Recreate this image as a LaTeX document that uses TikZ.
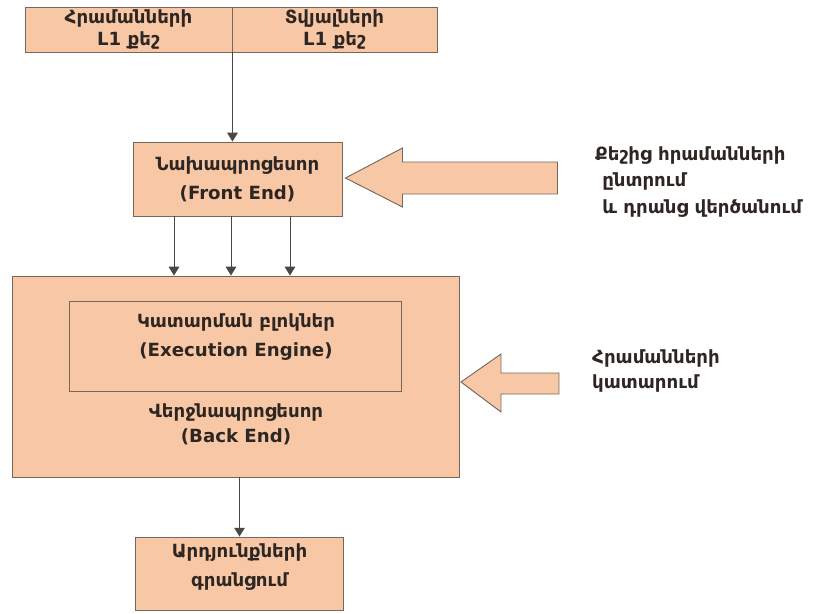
\documentclass[tikz,border=0pt]{standalone}
\usepackage{fontspec}
\setmainfont{DejaVu Sans}
\usetikzlibrary{arrows.meta,positioning}
\definecolor{peach}{HTML}{F8C8A6}
\definecolor{boxline}{HTML}{75675C}
\definecolor{ink}{HTML}{2E2622}
\tikzset{
  blk/.style={draw=boxline,fill=peach,line width=0.8pt,align=center,text=ink,inner sep=1pt,font=\bfseries\fontsize{15.5}{25}\selectfont},
  flow/.style={draw=ink!85,line width=0.8pt,-{Triangle[width=9pt,length=7.5pt]}},
  fat/.style={draw=boxline,fill=peach,line width=0.8pt},
  note/.style={align=left,text=ink,inner sep=0pt,font=\bfseries\fontsize{15.5}{22.5}\selectfont},
  inlabel/.style={align=center,text=ink,inner sep=0pt,font=\bfseries\fontsize{15.5}{24}\selectfont}
}

\begin{document}
\begin{tikzpicture}[x=0.03cm,y=-0.03cm]
\useasboundingbox (0,0) rectangle (819,613);
% caches
\node[blk,minimum width=6.21cm,minimum height=1.35cm,font=\bfseries\fontsize{15.5}{18.5}\selectfont] (icache) at (128.5,29.5) {Հրամանների\\L1 քեշ};
\node[blk,minimum width=6.15cm,minimum height=1.35cm,font=\bfseries\fontsize{15.5}{18.5}\selectfont] (dcache) at (334.5,29.5) {Տվյալների\\L1 քեշ};
% front end
\node[blk,minimum width=6.27cm,minimum height=2.22cm] (fe) at (237.5,179) {Նախապրոցեսոր\\(Front End)};
% back end
\node[blk,minimum width=13.41cm,minimum height=6.03cm] (be) at (236,376.5) {};
\node[blk,minimum width=9.96cm,minimum height=2.7cm] (engine) at (235,346) {};
\node[inlabel] (enginelabel) at (236,337) {Կատարման բլոկներ\\(Execution Engine)};
\node[inlabel,font=\bfseries\fontsize{15.5}{21.5}\selectfont] (belabel) at (236,424.5) {Վերջնապրոցեսոր\\(Back End)};
% results
\node[blk,minimum width=6.24cm,minimum height=2.19cm] (res) at (239.5,573.5) {};
\node[inlabel] (reslabel) at (239.5,567) {Արդյունքների\\գրանցում};
% notes
\node[note,anchor=west] (fenote) at (595,182) {Քեշից հրամանների\\\hspace{6pt}ընտրում\\\hspace{6pt}և դրանց վերծանում};
\node[note,anchor=west,font=\bfseries\fontsize{15.5}{22}\selectfont] (exnote) at (592,371) {Հրամանների\\կատարում};

\draw[flow] (icache.south east) -- (icache.south east |- fe.north);
\foreach \x in {174,231,290}
  \draw[flow] (\x,0 |- fe.south) -- (\x,0 |- be.north);
\draw[flow] (res.north |- be.south) -- (res.north);

% fat arrows
\draw[fat] (fe.east) ++(3,-1) -- ++(57,-30) -- ++(0,14) -- ++(155,0) -- ++(0,32) -- ++(-155,0) -- ++(0,13) -- cycle;
\draw[fat] (be.east) ++(1,5.5) -- ++(40,-28) -- ++(0,19) -- ++(58,0) -- ++(0,21) -- ++(-58,0) -- ++(0,18) -- cycle;
\end{tikzpicture}
\end{document}
